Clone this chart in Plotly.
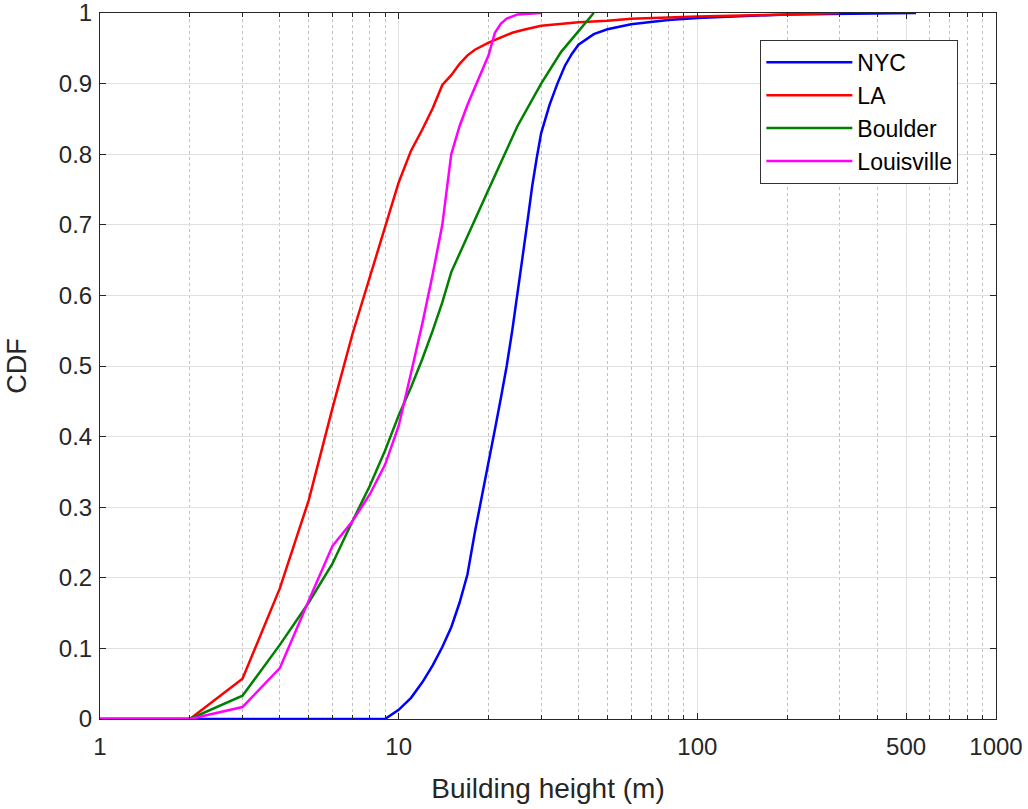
import plotly.graph_objects as go

nyc_x = [1, 2, 5, 9, 10, 11, 12, 13, 14, 15, 16, 17, 18, 19, 20, 21, 22, 23, 24, 25, 26, 27, 28, 29, 30, 32, 34, 36, 38, 40, 45, 50, 60, 80, 100, 200, 300, 540]
nyc_y = [0, 0, 0, 0, 0.013, 0.03, 0.052, 0.076, 0.102, 0.13, 0.165, 0.205, 0.265, 0.315, 0.36, 0.41, 0.455, 0.5, 0.55, 0.6, 0.655, 0.705, 0.755, 0.795, 0.83, 0.87, 0.9, 0.925, 0.942, 0.955, 0.97, 0.977, 0.984, 0.99, 0.993, 0.998, 0.999, 1.0]

la_x = [1, 2, 3, 4, 5, 6, 7, 8, 9, 10, 11, 12, 13, 14, 15, 16, 17, 18, 20, 22, 24, 26, 30, 40, 50, 60, 100, 200, 300]
la_y = [0, 0, 0.057, 0.185, 0.31, 0.44, 0.545, 0.625, 0.695, 0.76, 0.805, 0.835, 0.865, 0.898, 0.912, 0.928, 0.94, 0.948, 0.958, 0.965, 0.972, 0.976, 0.982, 0.987, 0.989, 0.992, 0.995, 0.998, 1.0]

boulder_x = [1, 2, 3, 4, 5, 6, 7, 8, 9, 10, 11, 12, 13, 14, 15, 17, 20, 25, 30, 35, 40, 45]
boulder_y = [0, 0, 0.033, 0.105, 0.165, 0.22, 0.28, 0.33, 0.38, 0.43, 0.47, 0.51, 0.55, 0.59, 0.633, 0.685, 0.75, 0.84, 0.9, 0.945, 0.975, 1.0]

louis_x = [1, 2, 3, 4, 5, 6, 7, 8, 9, 10, 11, 12, 13, 14, 15, 16, 17, 18, 19, 20, 21, 22, 23, 25, 30]
louis_y = [0, 0, 0.017, 0.072, 0.168, 0.245, 0.28, 0.318, 0.36, 0.415, 0.49, 0.56, 0.63, 0.7, 0.8, 0.84, 0.87, 0.895, 0.918, 0.94, 0.972, 0.985, 0.992, 0.998, 1.0]

series = [
    ("NYC", nyc_x, nyc_y, "#0000ff"),
    ("LA", la_x, la_y, "#ff0000"),
    ("Boulder", boulder_x, boulder_y, "#008000"),
    ("Louisville", louis_x, louis_y, "#ff00ff"),
]

x_tickvals = [1, 10, 100, 500, 1000]
x_ticktext = ["1", "10", "100", "500", "1000"]
x_minor = [2, 3, 4, 5, 6, 7, 8, 9, 20, 30, 40, 50, 60, 70, 80, 90, 200, 300, 400, 600, 700, 800, 900]
y_tickvals = [0, 0.1, 0.2, 0.3, 0.4, 0.5, 0.6, 0.7, 0.8, 0.9, 1]
y_ticktext = ["0", "0.1", "0.2", "0.3", "0.4", "0.5", "0.6", "0.7", "0.8", "0.9", "1"]

fig = go.Figure()
for name, xs, ys, col in series:
    fig.add_trace(go.Scatter(x=xs, y=ys, mode="lines", name=name,
                             line=dict(color=col, width=2.5)))

font_family = "Liberation Sans, Arial, sans-serif"
axis_common = dict(showline=True, linecolor="#262626", linewidth=1, mirror="allticks",
                   ticks="inside", ticklen=6, tickcolor="#262626", automargin=False,
                   ticklabeloverflow="allow",
                   gridcolor="#e0e0e0", gridwidth=1, zeroline=False,
                   tickfont=dict(size=24, color="#262626", family=font_family))

fig.update_xaxes(type="log", range=[0, 3], tickvals=x_tickvals, ticktext=x_ticktext,
                 ticklabelstandoff=6,
                 minor=dict(tickvals=x_minor, showgrid=True, griddash="dot", gridcolor="#c0c0c0",
                            ticks="inside", ticklen=4, tickcolor="#262626"),
                 title=dict(text="Building height (m)", font=dict(size=28, color="#262626", family=font_family), standoff=19),
                 **axis_common)
fig.update_yaxes(range=[0, 1], tickvals=y_tickvals, ticktext=y_ticktext,
                 ticklabelstandoff=2,
                 title=dict(text="CDF", font=dict(size=27, color="#262626", family=font_family), standoff=24),
                 **axis_common)

fig.update_layout(
    width=1028, height=809,
    margin=dict(l=100, r=32, t=13, b=90),
    plot_bgcolor="white", paper_bgcolor="white",
    font=dict(family=font_family, color="#262626"),
    legend=dict(x=0.737, y=0.962, xanchor="left", yanchor="top",
                bgcolor="white", bordercolor="#333333", borderwidth=1,
                font=dict(size=23, color="#000000", family=font_family),
                itemwidth=86, tracegroupgap=0),
)

fig.write_html("out.html")
